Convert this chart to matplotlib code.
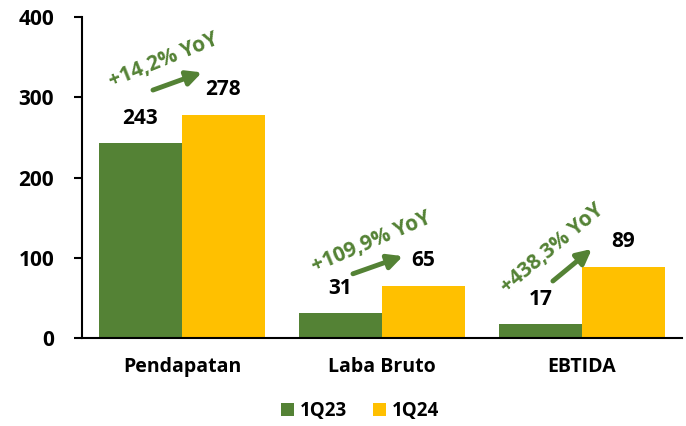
import matplotlib
matplotlib.use("Agg")
import matplotlib.pyplot as plt
import numpy as np

plt.rcParams['font.family'] = ['Open Sans', 'DejaVu Sans']
plt.rcParams['font.weight'] = 'bold'

categories = ['Pendapatan', 'Laba Bruto', 'EBTIDA']
q23 = [243, 31, 17]
q24 = [278, 65, 89]
growth = ['+14,2% YoY', '+109,9% YoY', '+438,3% YoY']
y_ticks = [0, 100, 200, 300, 400]

GREEN = '#548235'
YELLOW = '#FFC000'

fig = plt.figure(figsize=(6.86, 4.26), dpi=100)
ax = fig.add_axes([0.1195, 0.2066, 0.8745, 0.7534])

x = np.arange(len(categories))
w = 0.415
b1 = ax.bar(x - w / 2, q23, w, color=GREEN, label='1Q23')
b2 = ax.bar(x + w / 2, q24, w, color=YELLOW, label='1Q24')

for bars in (b1, b2):
    for r in bars:
        ax.annotate(f"{r.get_height():.0f}", (r.get_x() + r.get_width() / 2, r.get_height()),
                    xytext=(0, 18), textcoords='offset points', ha='center', va='center',
                    fontsize=15, fontweight='bold', color='black')

# growth annotations: (text x, text y, rotation, arrow tail, arrow head) in data coords
ann = [
    (-0.09, 346, 22, (-0.145, 309), (0.10, 331)),
    (0.95, 119, 23, (0.855, 80), (1.105, 102)),
    (1.85, 112, 40, (1.855, 71), (2.05, 111)),
]
for label, (tx, ty, rot, tail, head) in zip(growth, ann):
    ax.text(tx, ty, label, rotation=rot, ha='center', va='center', color=GREEN,
            fontsize=15, fontweight='bold', rotation_mode='anchor')
    ax.annotate('', xy=head, xytext=tail,
                arrowprops=dict(arrowstyle='-|>', lw=3.5, color=GREEN, mutation_scale=22,
                                shrinkA=0, shrinkB=0))

ax.set_xlim(-0.5, 2.5)
ax.set_ylim(0, 400)
ax.set_yticks(y_ticks)
ax.set_xticks(x)
ax.set_xticklabels(categories, fontsize=14, fontweight='bold')
ax.tick_params(axis='x', length=0, pad=14)
ax.tick_params(axis='y', direction='out', length=6, width=1.5, labelsize=15, pad=14)
for lab in ax.get_yticklabels():
    lab.set_fontweight('bold')
for s in ['top', 'right']:
    ax.spines[s].set_visible(False)
for s in ['left', 'bottom']:
    ax.spines[s].set_linewidth(1.5)
    ax.spines[s].set_color('black')

leg = fig.legend(loc='center', bbox_to_anchor=(0.525, 0.035), ncol=2, frameon=False,
                 handlelength=0.7, handleheight=0.7, handletextpad=0.3, columnspacing=1.4,
                 prop={'size': 13.5, 'weight': 'bold'})

fig.savefig('out.png', dpi=100)
